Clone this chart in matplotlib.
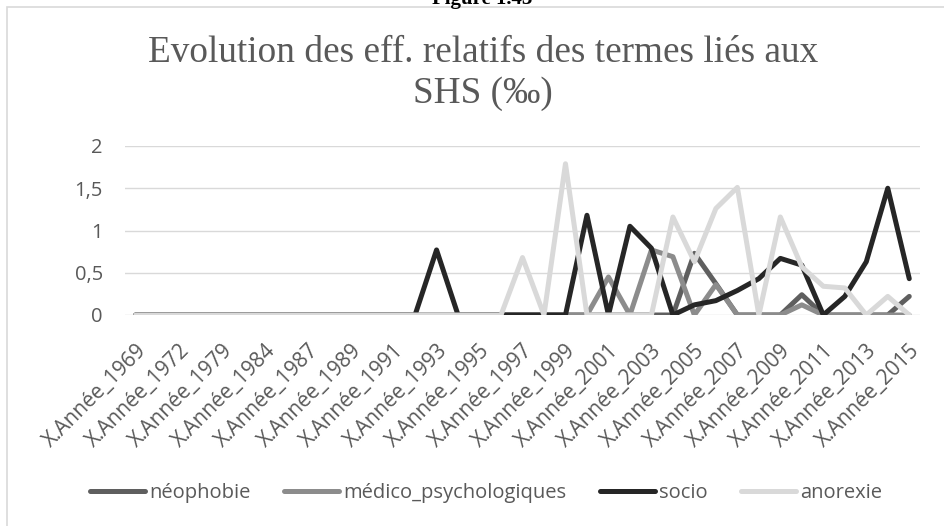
import matplotlib
matplotlib.use("Agg")
import matplotlib.pyplot as plt
from matplotlib.patches import Rectangle

# categories (only every second one is labelled on the axis)
years = [1969, 1971, 1972, 1976, 1979, 1982, 1984, 1986,
         1987, 1988, 1989, 1990, 1991, 1992, 1993, 1994, 1995, 1996,
         1997, 1998, 1999, 2000, 2001, 2002, 2003, 2004, 2005, 2006,
         2007, 2008, 2009, 2010, 2011, 2012, 2013, 2014, 2015]
categories = [f"X.Année_{y}" for y in years]

neophobie = [0, 0, 0, 0, 0, 0, 0, 0, 0, 0, 0, 0, 0, 0, 0, 0, 0, 0,
             0, 0, 0, 0, 0, 0, 0, 0, 0.73, 0.37, 0, 0, 0, 0.24, 0, 0,
             0, 0, 0.22]
medico = [0, 0, 0, 0, 0, 0, 0, 0, 0, 0, 0, 0, 0, 0, 0, 0, 0, 0,
          0, 0, 0, 0, 0.45, 0, 0.77, 0.69, 0, 0.36, 0, 0, 0, 0.12, 0, 0,
          0, 0, 0]
socio = [0, 0, 0, 0, 0, 0, 0, 0, 0, 0, 0, 0, 0, 0, 0.77, 0, 0, 0,
         0, 0, 0, 1.18, 0, 1.05, 0.79, 0, 0.12, 0.17, 0.29, 0.43, 0.67, 0.59, 0, 0.22,
         0.63, 1.50, 0.43]
anorexie = [0, 0, 0, 0, 0, 0, 0, 0, 0, 0, 0, 0, 0, 0, 0, 0, 0, 0,
            0.68, 0, 1.79, 0, 0, 0, 0, 1.16, 0.63, 1.26, 1.51, 0, 1.16, 0.57, 0.34, 0.32,
            0, 0.22, 0]

series = [
    ("néophobie", neophobie, "#5f5f5f"),
    ("médico_psychologiques", medico, "#8c8c8c"),
    ("socio", socio, "#262626"),
    ("anorexie", anorexie, "#d9d9d9"),
]

text_col = "#595959"
W, H = 944, 526
fig = plt.figure(figsize=(W / 100, H / 100), dpi=100)

# chart frame (cut by the image on the right and bottom)
fig.patches.append(Rectangle((7 / W, -0.05), 1.2, 1 - 7 / H + 0.05,
                             transform=fig.transFigure, fill=False,
                             edgecolor="#d9d9d9", linewidth=1.2))

# caption above the frame, mostly cropped in the reference
fig.text(482 / W, 1 - 4 / H, "Figure 1.43", ha="center", va="baseline",
         fontsize=15, fontweight="bold", family="Liberation Serif", color="black")

# title
fig.text(483 / W, 1 - 62 / H, "Evolution des eff. relatifs des termes liés aux",
         ha="center", va="baseline", fontsize=26.8, family="Liberation Serif",
         color=text_col)
fig.text(483 / W, 1 - 103 / H, "SHS (‰)", ha="center", va="baseline",
         fontsize=26.8, family="Liberation Serif", color=text_col)

ax = fig.add_axes([125 / W, 1 - 315 / H, (920 - 125) / W, (315 - 146) / H])
x = list(range(len(categories)))
for name, vals, col in series:
    ax.plot(x, vals, color=col, linewidth=3.6, label=name,
            solid_capstyle="round", solid_joinstyle="round", zorder=3)

ax.set_xlim(-0.5, len(categories) - 0.5)
ax.set_ylim(0, 2)
ax.set_yticks([0, 0.5, 1, 1.5, 2])
ax.set_yticklabels(["0", "0,5", "1", "1,5", "2"])
ax.set_xticks(x[::2])
ax.set_xticklabels(categories[::2], rotation=45, ha="right", va="top",
                   rotation_mode="anchor")
ax.grid(axis="y", color="#d9d9d9", linewidth=1, zorder=0)
ax.set_axisbelow(True)
for s in ax.spines.values():
    s.set_visible(False)
ax.tick_params(axis="both", length=0, colors=text_col)
ax.tick_params(axis="y", pad=16, labelsize=14.5)
ax.tick_params(axis="x", pad=18, labelsize=15)
for lab in ax.get_xticklabels() + ax.get_yticklabels():
    lab.set_family("Open Sans")

leg = fig.legend(loc="center", bbox_to_anchor=(486 / W, 1 - 493 / H), ncol=4,
                 frameon=False, handlelength=2.74, handletextpad=0.2,
                 columnspacing=1.65, prop={"family": "Open Sans", "size": 14.5})
for t in leg.get_texts():
    t.set_color(text_col)
for h in leg.get_lines():
    h.set_linewidth(3.6)
    h.set_solid_capstyle("round")

fig.savefig("out.png", dpi=100)
